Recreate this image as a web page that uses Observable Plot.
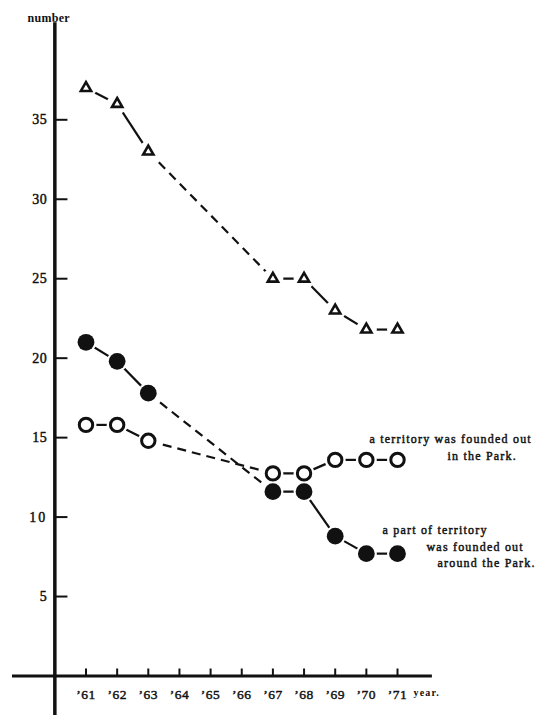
<!DOCTYPE html>
<html><head><meta charset="utf-8">
<script src="https://cdn.jsdelivr.net/npm/d3@7"></script>
<script src="https://cdn.jsdelivr.net/npm/@observablehq/plot@0.6"></script>
<style>
html,body{margin:0;padding:0;background:#fff}
#chart svg{display:block;background:#fff}
</style>
</head><body><div id="chart"></div>
<script>
// ---- data ----
const years = [61, 62, 63, 67, 68, 69, 70, 71];
const triangleSeries = [37, 36, 33, 25, 25, 23, 21.8, 21.8];
const openSeries = [15.8, 15.8, 14.8, 12.75, 12.75, 13.6, 13.6, 13.6];
const filledSeries = [21, 19.8, 17.8, 11.6, 11.6, 8.8, 7.7, 7.7];
const tickYears = [61, 62, 63, 64, 65, 66, 67, 68, 69, 70, 71];
const tickLabels = ["\u201961", "\u201962", "\u201963", "\u201964", "\u201965", "\u201966", "\u201967", "\u201968", "\u201969", "\u201970", "\u201971"];
const yTicks = [5, 10, 15, 20, 25, 30, 35];
const yTickLabels = ["5", "10", "15", "20", "25", "30", "35"];
const yAxisTitle = "number";
const xAxisTitle = "year.";
const noteOpen = ["a territory was founded out", "in the Park."];
const noteFilled = ["a part of territory", "was founded out", "around the Park."];

// ---- build tables ----
function points(vals) { return years.map((x, i) => ({x, y: vals[i]})); }
function segments(vals) {
  const out = [];
  for (let i = 1; i < years.length; i++) {
    out.push({x1: years[i-1], y1: vals[i-1], x2: years[i], y2: vals[i], gap: years[i] - years[i-1] > 1});
  }
  return out;
}
const allSeries = [triangleSeries, openSeries, filledSeries];
const segs = allSeries.flatMap(segments);
const solidSegs = segs.filter(d => !d.gap);
const dashedSegs = segs.filter(d => d.gap);
const allPts = allSeries.flatMap(points);

const ink = "#111";
const serif = "'Liberation Serif', 'DejaVu Serif', serif";
const txt = {fill: ink, stroke: ink, strokeWidth: 0.45, fontFamily: serif};

const chart = Plot.plot({
  width: 551,
  height: 715,
  margin: 0,
  x: {domain: [60, 71], range: [54.35, 397], axis: null},
  y: {domain: [0, 35], range: [675.5, 119.3], axis: null},
  style: {background: "#fff", fontFamily: serif},
  marks: [
    // axes lines
    Plot.ruleY([0], {x1: 58.64, x2: 72.12, stroke: ink, strokeWidth: 3}),
    Plot.ruleX([60], {y1: -2.6, y2: 41.1, stroke: ink, strokeWidth: 3.5}),
    // x ticks (pointing up)
    Plot.ruleX(tickYears, {x: d => d, y1: 0, y2: 0.44, stroke: ink, strokeWidth: 2}),
    // y ticks (pointing right)
    Plot.ruleY(yTicks, {y: d => d, x1: 60, x2: 60.42, stroke: ink, strokeWidth: 2}),
    // tick labels
    Plot.text(tickYears, {x: d => d, y: 0, text: (d, i) => tickLabels[i], dy: 18.5, fontSize: 13.5, ...txt}),
    Plot.text(yTicks, {x: 60, y: d => d, text: (d, i) => yTickLabels[i], dx: -7.5, textAnchor: "end", fontSize: 14, ...txt}),
    // axis titles
    Plot.text([yAxisTitle], {frameAnchor: "top-left", text: d => d, dx: 27, dy: 13, textAnchor: "start", fontSize: 12, fontWeight: "bold", fill: ink, fontFamily: serif}),
    Plot.text([xAxisTitle], {frameAnchor: "top-left", text: d => d, dx: 413, dy: 688, textAnchor: "start", fontSize: 10, fontWeight: "bold", fill: ink, fontFamily: serif}),
    // connecting lines
    Plot.link(solidSegs, {x1: "x1", y1: "y1", x2: "x2", y2: "y2", stroke: ink, strokeWidth: 2.2}),
    Plot.link(dashedSegs, {x1: "x1", y1: "y1", x2: "x2", y2: "y2", stroke: ink, strokeWidth: 2.2, strokeDasharray: "9,6"}),
    // white halos so lines stop short of markers
    Plot.dot(allPts, {x: "x", y: "y", r: 10.5, fill: "#fff", stroke: "none"}),
    // markers
    Plot.dot(points(triangleSeries), {x: "x", y: "y", symbol: "triangle", r: 3.8, fill: "#fff", stroke: ink, strokeWidth: 2.6}),
    Plot.dot(points(openSeries), {x: "x", y: "y", r: 6.7, fill: "#fff", stroke: ink, strokeWidth: 3}),
    Plot.dot(points(filledSeries), {x: "x", y: "y", r: 8.4, fill: ink, stroke: "none"}),
    // annotations
    Plot.text([noteOpen[0]], {frameAnchor: "top-left", text: d => d, dx: 369, dy: 434, textAnchor: "start", fontSize: 12, ...txt}),
    Plot.text([noteOpen[1]], {frameAnchor: "top-left", text: d => d, dx: 447, dy: 451, textAnchor: "start", fontSize: 12, ...txt}),
    Plot.text([noteFilled[0]], {frameAnchor: "top-left", text: d => d, dx: 382, dy: 525, textAnchor: "start", fontSize: 12, ...txt}),
    Plot.text([noteFilled[1]], {frameAnchor: "top-left", text: d => d, dx: 426, dy: 542, textAnchor: "start", fontSize: 12, ...txt}),
    Plot.text([noteFilled[2]], {frameAnchor: "top-left", text: d => d, dx: 437, dy: 558, textAnchor: "start", fontSize: 12, ...txt})
  ]
});
document.getElementById("chart").appendChild(chart);

// letter spacing like the typewritten original
const spaced = new Set([...noteOpen, ...noteFilled]);
d3.select(chart).selectAll("text").each(function() {
  const t = this.textContent;
  if (spaced.has(t)) this.style.letterSpacing = "1.2px";
  else if (t === xAxisTitle) this.style.letterSpacing = "1.2px";
  else if (t === yAxisTitle) this.style.letterSpacing = "0.3px";
  else if (t === "10") this.style.letterSpacing = "2px";
  else this.style.letterSpacing = "0.5px";
});
</script>
</body></html>
